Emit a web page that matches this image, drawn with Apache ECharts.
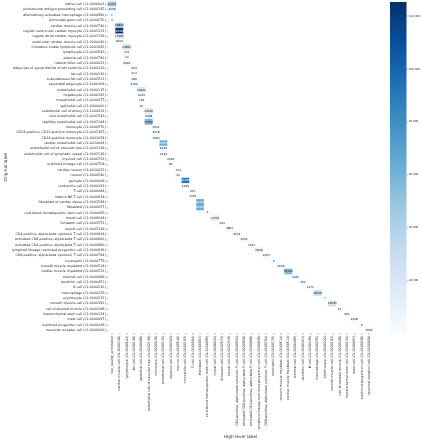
<!DOCTYPE html>
<html><head><meta charset="utf-8">
<script src="https://cdn.jsdelivr.net/npm/echarts@6/dist/echarts.min.js"></script>
<style>html,body{margin:0;padding:0;background:#fff}#c{width:422px;height:440px}</style>
</head><body><div id="c"></div>
<script>
const highLevelLabels = [
  'low_quality_annotation','cardiac muscle cell (CL:0000746)','lymphocyte (CL:0000542)','fat cell (CL:0000136)',
  'epithelial cell (CL:0000066)','endothelial cell of vascular tree (CL:0002139)','monocyte (CL:0000576)',
  'endothelial cell (CL:0000115)','myeloid cell (CL:0000763)','neuron (CL:0000540)','contractile cell (CL:0000183)',
  'T cell (CL:0000084)','fibroblast (CL:0000057)','cord blood hematopoietic stem cell (CL:2000095)','mural cell (CL:0008034)',
  'Schwann cell (CL:0002573)','neural cell (CL:0002319)','CD4-positive, alpha-beta cytotoxic T cell (CL:0000934)',
  'activated CD8-positive, alpha-beta T cell (CL:0000906)','activated CD4-positive, alpha-beta T cell (CL:0000896)',
  'lymphoid lineage restricted progenitor cell (CL:0000838)','CD8-positive, alpha-beta cytotoxic T cell (CL:0000794)',
  'neutrophil (CL:0000775)','smooth muscle myoblast (CL:0000514)','cardiac muscle myoblast (CL:0000513)',
  'stromal cell (CL:0000499)','dendritic cell (CL:0000451)','B cell (CL:0000236)','macrophage (CL:0000235)',
  'erythrocyte (CL:0000232)','smooth muscle cell (CL:0000192)','cell of skeletal muscle (CL:0000188)',
  'mesenchymal stem cell (CL:0000134)','mast cell (CL:0000097)','erythroid progenitor cell (CL:0000038)',
  'neuronal receptor cell (CL:0000006)'
];
const originalLabels = [
  'native cell (CL:0000003)','professional antigen presenting cell (CL:0000145)','alternatively activated macrophage (CL:0000890)',
  'primordial germ cell (CL:0000670)','cardiac muscle cell (CL:0000746)','regular ventricular cardiac myocyte (CL:0002131)',
  'regular atrial cardiac myocyte (CL:0002129)','ventricular cardiac muscle cell (CL:2000046)','immature innate lymphoid cell (CL:0001082)',
  'lymphocyte (CL:0000542)','plasma cell (CL:0000786)','natural killer cell (CL:0000623)',
  'adipocyte of epicardial fat of left ventricle (CL:1000311)','fat cell (CL:0000136)','subcutaneous fat cell (CL:0002521)',
  'epicardial adipocyte (CL:1000309)','endothelial cell (CL:0000115)','hepatocyte (CL:0000182)','mesothelial cell (CL:0000077)',
  'epithelial cell (CL:0000066)','endothelial cell of artery (CL:1000413)','vein endothelial cell (CL:0002543)',
  'capillary endothelial cell (CL:0002144)','monocyte (CL:0000576)','CD14-positive, CD16-positive monocyte (CL:0002397)',
  'CD14-positive monocyte (CL:0001054)','cardiac endothelial cell (CL:0010008)','endothelial cell of vascular tree (CL:0002139)',
  'endothelial cell of lymphatic vessel (CL:0002138)','myeloid cell (CL:0000763)','erythroid lineage cell (CL:0000764)',
  'cardiac neuron (CL:0010022)','neuron (CL:0000540)','pericyte (CL:0000669)','contractile cell (CL:0000183)',
  'T cell (CL:0000084)','mature NK T cell (CL:0000814)','fibroblast of cardiac tissue (CL:0002548)','fibroblast (CL:0000057)',
  'cord blood hematopoietic stem cell (CL:2000095)','mural cell (CL:0008034)','Schwann cell (CL:0002573)','neural cell (CL:0002319)',
  'CD4-positive, alpha-beta cytotoxic T cell (CL:0000934)','activated CD8-positive, alpha-beta T cell (CL:0000906)',
  'activated CD4-positive, alpha-beta T cell (CL:0000896)','lymphoid lineage restricted progenitor cell (CL:0000838)',
  'CD8-positive, alpha-beta cytotoxic T cell (CL:0000794)','neutrophil (CL:0000775)','smooth muscle myoblast (CL:0000514)',
  'cardiac muscle myoblast (CL:0000513)','stromal cell (CL:0000499)','dendritic cell (CL:0000451)','B cell (CL:0000236)',
  'macrophage (CL:0000235)','erythrocyte (CL:0000232)','smooth muscle cell (CL:0000192)','cell of skeletal muscle (CL:0000188)',
  'mesenchymal stem cell (CL:0000134)','mast cell (CL:0000097)','erythroid progenitor cell (CL:0000038)','neuronal receptor cell (CL:0000006)'
];
// index of the high level label assigned to each original label
const assignedHighLevel = [
  0,0,0,0, 1,1,1,1, 2,2,2,2, 3,3,3,3, 4,4,4,4, 5,5,5, 6,6,6, 7,7,7, 8,8, 9,9, 10,10, 11,11, 12,12,
  13,14,15,16,17,18,19,20,21,22,23,24,25,26,27,28,29,30,31,32,33,34,35
];
const cellCounts = [
  40405,4058,1,3, 46850,125284,15989,3604, 24852,761,10,3626, 323,214,189,3799, 20960,1099,718,16,
  20436,6308,57396, 2011,3278,1993, 62663,6346,1349, 2093,80, 704,32, 91336,2459, 651,1795, 64339,62166,
  4,11509,294,3861,3113,3001,1047,5808,2454,6,2936,56133,3045,464,1271,28378,7,26035,21,281,2408,6,2502
];
const colorbarTicks = [20000,40000,60000,80000,100000,120000];
const colorMin = 1, colorMax = 125300;

const blues = ['#f7fbff','#deebf7','#c6dbef','#9ecae1','#6baed6','#4292c6','#2171b5','#08519c','#08306b'];
function hex(c){return [1,3,5].map(i=>parseInt(c.substr(i,2),16));}
function cmap(t){
  t=Math.max(0,Math.min(1,t)); const s=t*(blues.length-1); const i=Math.min(Math.floor(s),blues.length-2); const f=s-i;
  const a=hex(blues[i]), b=hex(blues[i+1]); return a.map((v,k)=>v+(b[k]-v)*f);
}
function lum(rgb){
  const l=rgb.map(v=>{v/=255;return v<=0.03928?v/12.92:Math.pow((v+0.055)/1.055,2.4);});
  return 0.2126*l[0]+0.7152*l[1]+0.0722*l[2];
}
const FONT='DejaVu Sans';
const data = cellCounts.map((v,i)=>{
  const t=(v-colorMin)/(colorMax-colorMin);
  return {value:[assignedHighLevel[i], i, v], label:{color: lum(cmap(t))>0.408 ? '#262626' : '#ffffff'}};
});

const chart = echarts.init(document.getElementById('c'), null, {renderer:'canvas'});
chart.setOption({
  animation:false,
  backgroundColor:'#fff',
  grid:[
    {left:108.3, top:1.6, width:264.4, height:331.4, containLabel:false, outerBoundsMode:'none'},
    {left:390, top:2, width:16.5, height:331.2, containLabel:false, outerBoundsMode:'none'}
  ],
  xAxis:[
    {type:'category', data:highLevelLabels, gridIndex:0, position:'bottom',
     axisLine:{show:false}, splitLine:{show:false},
     axisTick:{show:true, alignWithLabel:true, length:1.8, lineStyle:{color:'#333', width:0.4}},
     axisLabel:{rotate:90, interval:0, fontSize:3.3, margin:2.6, color:'#262626', fontFamily:FONT},
     name:'High level label', nameLocation:'middle', nameGap:102, nameMoveOverlap:false,
     nameTextStyle:{fontSize:4.3, color:'#262626', fontFamily:FONT}},
    {type:'category', data:[''], gridIndex:1, show:false}
  ],
  yAxis:[
    {type:'category', data:originalLabels, gridIndex:0, inverse:true,
     axisLine:{show:false}, splitLine:{show:false},
     axisTick:{show:true, alignWithLabel:true, length:1.8, lineStyle:{color:'#333', width:0.4}},
     axisLabel:{interval:0, fontSize:3.3, margin:2.6, color:'#262626', fontFamily:FONT},
     name:'Original label', nameLocation:'middle', nameGap:100, nameRotate:90, nameMoveOverlap:false,
     nameTextStyle:{fontSize:4.3, color:'#262626', fontFamily:FONT}},
    {type:'value', gridIndex:1, position:'right', min:colorMin, max:colorMax,
     axisLine:{show:false}, splitLine:{show:false},
     axisTick:{show:true, length:1.8, customValues:colorbarTicks, lineStyle:{color:'#333', width:0.4}},
     axisLabel:{fontSize:2.7, margin:2.4, color:'#262626', fontFamily:FONT, customValues:colorbarTicks}}
  ],
  visualMap:{type:'continuous', show:false, min:colorMin, max:colorMax, seriesIndex:0, dimension:2, inRange:{color:blues}},
  series:[
    {type:'heatmap', xAxisIndex:0, yAxisIndex:0, data:data,
     label:{show:true, fontSize:2.8, fontFamily:FONT, formatter:p=>String(p.value[2])},
     emphasis:{disabled:true}},
    {type:'bar', xAxisIndex:1, yAxisIndex:1, data:[colorMax], barWidth:'100%', silent:true,
     itemStyle:{color:{type:'linear', x:0, y:1, x2:0, y2:0,
       colorStops:blues.map((c,i)=>({offset:i/(blues.length-1), color:c}))}}}
  ]
});
</script></body></html>
